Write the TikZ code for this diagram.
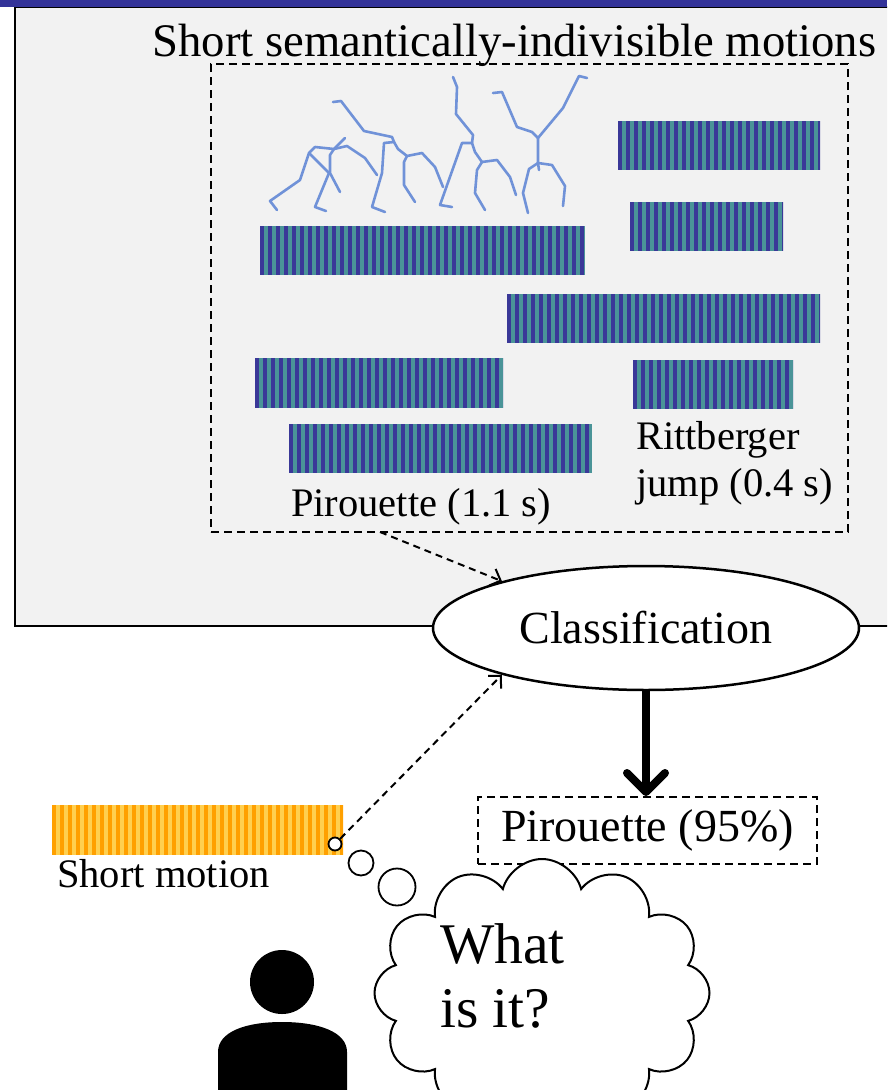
\documentclass[tikz,border=0pt]{standalone}
\usepackage{fontspec}
\setmainfont{Liberation Serif}
\usetikzlibrary{shapes.geometric,shapes.symbols,arrows.meta}
\definecolor{topbar}{HTML}{333399}
\definecolor{panel}{HTML}{F2F2F2}
\definecolor{navy}{HTML}{3A3898}
\definecolor{tealbar}{HTML}{4A9498}
\definecolor{orng}{HTML}{FFA000}
\definecolor{lorng}{HTML}{FFD050}
\definecolor{skel}{HTML}{7092D8}

\begin{document}
\begin{tikzpicture}[x=1pt,y=-1pt,
  stripebar/.style n args={4}{minimum width=#1, minimum height=#2, inner sep=0pt, outer sep=0pt, fill=#4,
    path picture={\foreach \k in {0,8,...,#1}{
      \fill[#3] ([xshift=\k pt]path picture bounding box.south west) rectangle ([xshift=\k pt+4.3pt]path picture bounding box.north west);}}},
  dashbox/.style={draw, dash pattern=on 8pt off 5pt, line width=2pt},
  lbl/.style={font=\fontsize{40.5}{48}\selectfont, inner sep=0pt, anchor=base west},
  big/.style={font=\fontsize{46}{55}\selectfont},
  skeleton/.style={draw=skel, line width=2.6pt, line cap=round, line join=round},
  bubble/.style={circle, draw, fill=white, line width=1.8pt, inner sep=0pt},
  dasharrow/.style={dash pattern=on 7pt off 5pt, line width=2pt, -{Straight Barb[length=9pt,width=18pt]}},
]
\useasboundingbox (0,0) rectangle (887,1090);
\clip (0,0) rectangle (887,1090);

% grey panel and header strip
\draw[fill=panel, line width=1.6pt] (15,7) rectangle (905,626);
\fill[topbar] (0,0) rectangle (887,7);

\node[font=\fontsize{46.7}{55}\selectfont, anchor=base, inner sep=0pt] (title) at (514.5,56) {Short semantically-indivisible motions};

% dashed frame around the motion segments
\node[dashbox, minimum width=637, minimum height=468, inner sep=0pt] (dbox) at (529.5,298) {};

% skeleton poses
\draw[skeleton] (277,210) -- (270,201) -- (300,180) -- (309,153) -- (315,147) -- (334,149) -- (345,138);
\draw[skeleton] (309,153) -- (329,173) -- (315,207) -- (326,211);
\draw[skeleton] (334,149) -- (330,155) -- (330,173) -- (340,192);
\draw[skeleton] (334,149) -- (347,146) -- (365,158) -- (377,175);

\draw[skeleton] (333,102) -- (341,101) -- (364,131) -- (392,137) -- (394,142);
\draw[skeleton] (394,142) -- (384,143) -- (382,173) -- (372,207) -- (385,212);
\draw[skeleton] (394,142) -- (398,149) -- (407,156) -- (422,153) -- (435,167) -- (443,187);
\draw[skeleton] (407,156) -- (404,162) -- (404,185) -- (415,202);

\draw[skeleton] (453,77) -- (457,87) -- (456,114) -- (473,135) -- (472,143);
\draw[skeleton] (472,143) -- (462,143) -- (440,205) -- (452,207);
\draw[skeleton] (472,143) -- (475,152) -- (482,162) -- (497,160) -- (510,177) -- (516,195);
\draw[skeleton] (482,162) -- (477,170) -- (475,193) -- (485,210);

\draw[skeleton] (493,93) -- (502,92) -- (517,127) -- (532,132) -- (538,138);
\draw[skeleton] (538,138) -- (563,108) -- (579,76) -- (587,78);
\draw[skeleton] (538,138) -- (538,163) -- (539,170);
\draw[skeleton] (538,163) -- (529,169) -- (523,193) -- (528,213);
\draw[skeleton] (538,163) -- (552,165) -- (565,186) -- (563,206);

% motion segments
\node[stripebar={325}{49}{navy}{tealbar}] (bar1) at (422.5,250.5) {};
\node[stripebar={202}{49}{navy}{tealbar}] (bar2) at (719,145.5) {};
\node[stripebar={153}{49}{navy}{tealbar}] (bar3) at (706.5,226.5) {};
\node[stripebar={313}{49}{navy}{tealbar}] (bar4) at (663.5,318.5) {};
\node[stripebar={160}{49}{navy}{tealbar}] (bar5) at (713,384.5) {};
\node[stripebar={248}{50}{navy}{tealbar}] (bar6) at (379,383) {};
\node[stripebar={303}{49}{navy}{tealbar}] (bar7) at (440.5,448.5) {};

\node[lbl] (rit1) at (636,449) {Rittberger};
\node[lbl] (rit2) at (636,496) {jump (0.4 s)};
\node[lbl] (pir) at (291,516) {Pirouette (1.1 s)};

% classifier and result
\node[ellipse, draw, fill=white, line width=2.5pt, minimum width=426, minimum height=124, inner sep=0pt, big] (cls) at (646,628) {Classification};
\node[dashbox, big, minimum width=339, minimum height=67, inner sep=0pt] (res) at (647.5,830.5) {Pirouette (95\%)};
\draw[line width=8pt, -{Straight Barb[length=19pt,width=38pt,line cap=round,line join=round]}] (cls.south) -- (cls.south |- res.north);

% query motion
\node[stripebar={291}{50}{orng}{lorng}] (short) at (197.5,830) {};
\node[lbl] (shm) at (57,887) {Short motion};

% thought bubbles
\node[bubble, minimum size=13] (b1) at (335,844) {};
\node[bubble, minimum size=25] (b2) at (361,863) {};
\node[bubble, minimum size=37] (b3) at (397,887) {};
\node[cloud, cloud puffs=12, draw, fill=white, line width=2pt, minimum width=335, minimum height=268, inner sep=0pt] (cloud) at (542,993) {};
\node[font=\fontsize{57.5}{68}\selectfont, anchor=base west, inner sep=0pt] (q1) at (440,963) {What};
\node[font=\fontsize{57.5}{68}\selectfont, anchor=base west, inner sep=0pt] (q2) at (440,1027) {is it?};

% dashed connectors
\coordinate (dtail) at (380,532);
\draw[dasharrow] (dtail) -- (cls.162);
\draw[dasharrow] (b1) -- (cls.198);

% person icon
\node[circle, fill=black, minimum size=64, inner sep=0pt] (head) at (282,982) {};
\fill (218,1100) -- (218,1052) .. controls (218,1032) and (245,1022) .. (282,1022) .. controls (319,1022) and (347,1032) .. (347,1052) -- (347,1100) -- cycle;
\end{tikzpicture}
\end{document}
